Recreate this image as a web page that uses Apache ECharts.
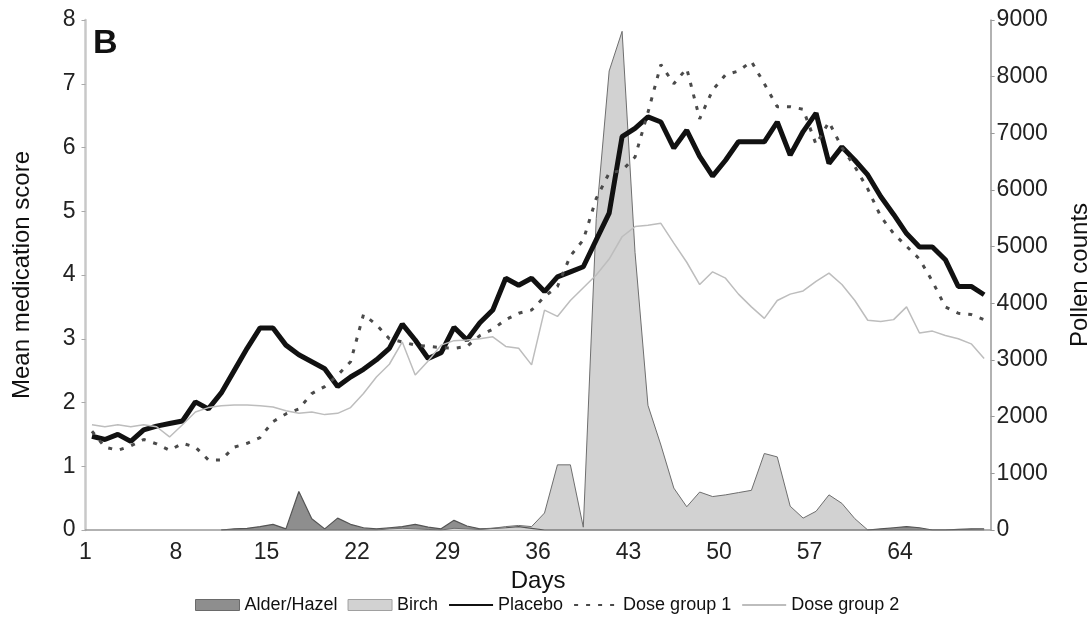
<!DOCTYPE html>
<html>
<head>
<meta charset="utf-8">
<title>Mean medication score and pollen counts</title>
<script src="https://cdn.jsdelivr.net/npm/echarts@6/dist/echarts.min.js"></script>
<style>
  html, body { margin: 0; padding: 0; background: #fff; overflow: hidden; }
  #chart { width: 1088px; height: 617px; }
</style>
</head>
<body>
<div id="chart"></div>
<script>
// days of the season, one category per day
const days = Array.from({ length: 70 }, (_, i) => i + 1);
const tickDays = [1, 8, 15, 22, 29, 36, 43, 50, 57, 64];

// pollen counts (right axis)
const alderHazel = [
  null, null, null, null, null, null, null, null, null, null,
  0, 20, 30, 60, 100, 20, 680, 200, 20, 210,
  100, 40, 20, 40, 60, 100, 50, 20, 170, 70,
  20, 30, 40, 60, 30, 0, 0, 0, 0, 0,
  0, 0, 0, 0, 0, 0, 0, 0, 0, 0,
  0, 0, 0, 0, 0, 0, 0, 0, 0, 0,
  0, 20, 40, 60, 40, 0, 0, 10, 20, 20
];
const birch = [
  null, null, null, null, null, null, null, null, null, null,
  0, 0, 0, 0, 0, 0, 0, 0, 0, 0,
  0, 0, 0, 20, 30, 20, 10, 0, 30, 20,
  10, 30, 60, 80, 60, 300, 1150, 1150, 50, 5500,
  8100, 8800, 4900, 2200, 1500, 740, 410, 670, 590, 620,
  660, 700, 1350, 1290, 420, 210, 330, 620, 470, 200,
  0, 0, 0, 0, 0, 0, 0, 0, 0, 0
];

// mean medication score (left axis)
const placebo = [
  1.47, 1.42, 1.50, 1.39, 1.57, 1.63, 1.67, 1.71, 2.01, 1.90,
  2.15, 2.50, 2.85, 3.17, 3.17, 2.90, 2.75, 2.64, 2.53, 2.25,
  2.40, 2.52, 2.67, 2.85, 3.23, 2.98, 2.69, 2.78, 3.18, 2.98,
  3.25, 3.45, 3.95, 3.84, 3.95, 3.74, 3.97, 4.05, 4.13, 4.55,
  4.97, 6.17, 6.30, 6.48, 6.40, 5.99, 6.27, 5.86, 5.55, 5.80,
  6.09, 6.09, 6.09, 6.40, 5.88, 6.25, 6.54, 5.75, 6.01, 5.80,
  5.57, 5.23, 4.95, 4.65, 4.44, 4.44, 4.24, 3.82, 3.82, 3.69
];
const doseGroup1 = [
  1.55, 1.30, 1.25, 1.32, 1.42, 1.35, 1.25, 1.36, 1.30, 1.10,
  1.10, 1.30, 1.36, 1.45, 1.70, 1.82, 1.90, 2.14, 2.25, 2.43,
  2.64, 3.38, 3.22, 3.00, 2.95, 2.90, 2.88, 2.86, 2.85, 2.88,
  3.05, 3.15, 3.30, 3.40, 3.45, 3.66, 3.82, 4.30, 4.55, 5.20,
  5.60, 5.64, 5.85, 6.55, 7.30, 7.00, 7.24, 6.45, 6.90, 7.14,
  7.20, 7.35, 7.00, 6.64, 6.64, 6.60, 6.05, 6.40, 6.00, 5.70,
  5.35, 4.92, 4.65, 4.45, 4.25, 3.90, 3.50, 3.40, 3.38, 3.30
];
const doseGroup2 = [
  1.65, 1.62, 1.65, 1.62, 1.65, 1.62, 1.46, 1.65, 1.85, 1.92,
  1.95, 1.96, 1.96, 1.95, 1.93, 1.87, 1.83, 1.85, 1.81, 1.83,
  1.92, 2.14, 2.40, 2.60, 2.95, 2.43, 2.65, 2.90, 2.97, 2.98,
  3.00, 3.03, 2.88, 2.85, 2.59, 3.45, 3.35, 3.60, 3.80, 4.00,
  4.25, 4.60, 4.76, 4.78, 4.81, 4.50, 4.20, 3.85, 4.05, 3.95,
  3.70, 3.50, 3.32, 3.60, 3.70, 3.75, 3.90, 4.03, 3.85, 3.60,
  3.29, 3.27, 3.30, 3.50, 3.09, 3.12, 3.05, 3.00, 2.92, 2.69
];

const FONT = '"Liberation Sans", Arial, sans-serif';

const chart = echarts.init(document.getElementById('chart'), null, { renderer: 'canvas' });

chart.setOption({
  animation: false,
  backgroundColor: '#fff',
  textStyle: { fontFamily: FONT },
  title: {
    text: 'B',
    left: 88,
    top: 22,
    textStyle: { fontSize: 34, fontWeight: 'bold', color: '#111', fontFamily: FONT }
  },
  // outerBoundsMode none: keep the plot box where it is, names may sit at the edge
  grid: { left: 85.5, right: 97.4, top: 20, bottom: 87, containLabel: false, outerBoundsMode: 'none' },
  legend: {
    left: 190,
    top: 591,
    itemWidth: 44,
    itemHeight: 11,
    itemGap: 10,
    textStyle: { fontSize: 18, color: '#111' },
    data: [
      { name: 'Alder/Hazel', icon: 'rect', itemStyle: { color: '#8e8e8e', borderColor: '#6a6a6a', borderWidth: 1 } },
      { name: 'Birch', icon: 'rect', itemStyle: { color: '#d2d2d2', borderColor: '#a0a0a0', borderWidth: 1 } },
      { name: 'Placebo', itemStyle: { opacity: 0 } },
      { name: 'Dose group 1', itemStyle: { opacity: 0 } },
      { name: 'Dose group 2', itemStyle: { opacity: 0 } }
    ]
  },
  xAxis: {
    type: 'category',
    data: days,
    boundaryGap: true,
    name: 'Days',
    nameLocation: 'middle',
    nameGap: 38,
    nameTextStyle: { fontSize: 24, color: '#111' },
    axisLine: { lineStyle: { color: '#999', width: 1.5 } },
    axisTick: { interval: 0, length: 5, lineStyle: { color: '#999' } },
    axisLabel: {
      interval: function (index, value) { return tickDays.indexOf(Number(value)) >= 0; },
      padding: [0, 13, 0, 0],
      margin: 11,
      fontSize: 23,
      color: '#222'
    },
    splitLine: { show: false }
  },
  yAxis: [
    {
      type: 'value',
      min: 0,
      max: 8,
      interval: 1,
      name: 'Mean medication score',
      nameLocation: 'middle',
      nameRotate: 90,
      nameGap: 51,
      nameTextStyle: { fontSize: 24, color: '#111' },
      axisLine: { show: true, lineStyle: { color: '#c8c8c8', width: 2.5 } },
      axisTick: { show: true, length: 4, lineStyle: { color: '#aaa' } },
      axisLabel: { fontSize: 23, color: '#222', margin: 10 },
      splitLine: { show: false }
    },
    {
      type: 'value',
      min: 0,
      max: 9000,
      interval: 1000,
      position: 'right',
      name: 'Pollen counts',
      nameLocation: 'middle',
      nameRotate: 90,
      nameGap: 78,
      nameTextStyle: { fontSize: 24, color: '#111' },
      axisLine: { show: true, lineStyle: { color: '#999', width: 1.5 } },
      axisTick: { show: true, length: 4, lineStyle: { color: '#999' } },
      axisLabel: { fontSize: 23, color: '#222', margin: 6, formatter: function (v) { return String(v); } },
      splitLine: { show: false }
    }
  ],
  series: [
    {
      name: 'Alder/Hazel',
      type: 'line',
      yAxisIndex: 1,
      data: alderHazel,
      symbol: 'none',
      lineStyle: { color: '#555', width: 1.2 },
      itemStyle: { color: '#8e8e8e' },
      areaStyle: { color: '#8e8e8e', opacity: 1 }
    },
    {
      name: 'Birch',
      type: 'line',
      yAxisIndex: 1,
      data: birch,
      symbol: 'none',
      lineStyle: { color: '#6e6e6e', width: 1 },
      itemStyle: { color: '#d2d2d2' },
      areaStyle: { color: '#d2d2d2', opacity: 1 }
    },
    {
      name: 'Placebo',
      type: 'line',
      data: placebo,
      symbol: 'none',
      lineStyle: { color: '#111', width: 5 },
      itemStyle: { color: '#111' }
    },
    {
      name: 'Dose group 1',
      type: 'line',
      data: doseGroup1,
      symbol: 'none',
      lineStyle: { color: '#4a4a4a', width: 3, type: [4, 8] },
      itemStyle: { color: '#4a4a4a' }
    },
    {
      name: 'Dose group 2',
      type: 'line',
      data: doseGroup2,
      symbol: 'none',
      lineStyle: { color: '#bdbdbd', width: 1.5 },
      itemStyle: { color: '#bdbdbd' }
    }
  ]
});
</script>
</body>
</html>
